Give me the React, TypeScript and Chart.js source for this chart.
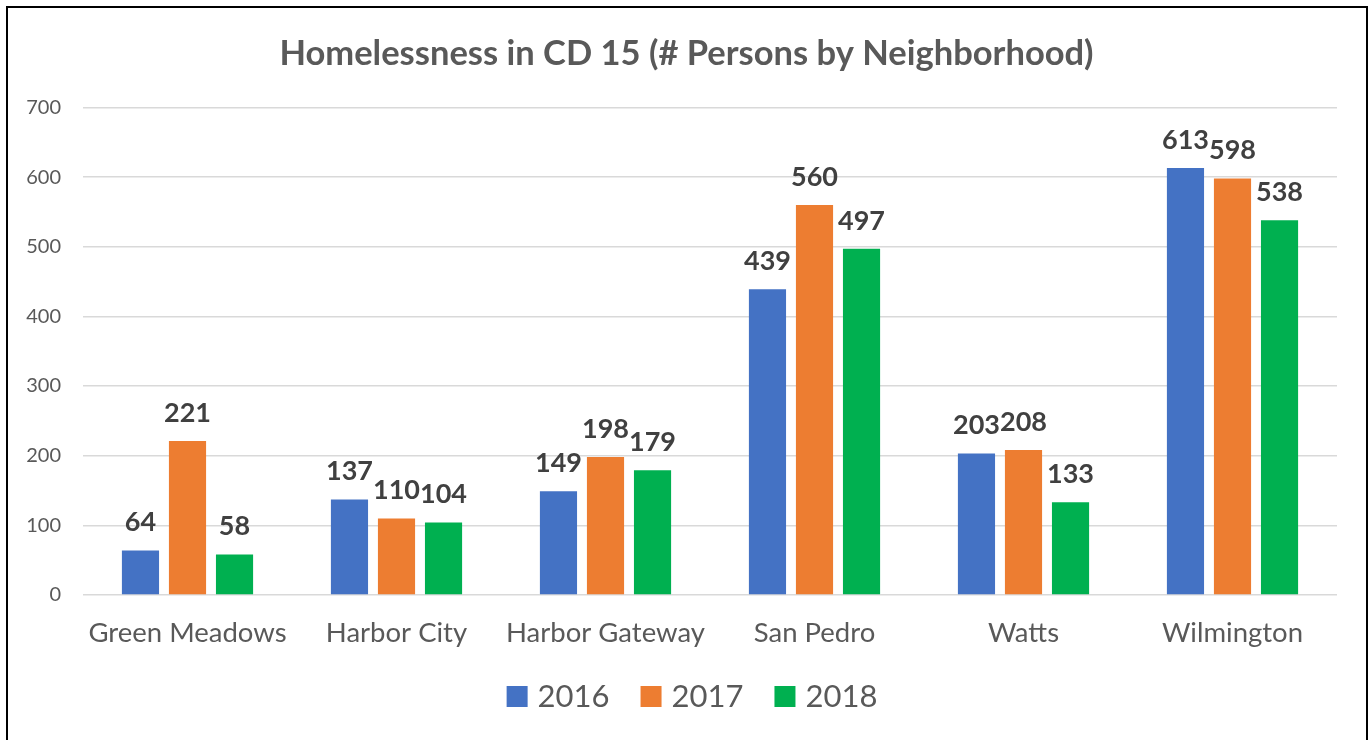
import React, { useEffect, useRef } from "react";
import { Chart, registerables } from "chart.js";

Chart.register(...registerables);

const TITLE = "Homelessness in CD 15 (# Persons by Neighborhood)";
const CATEGORIES = ["Green Meadows", "Harbor City", "Harbor Gateway", "San Pedro", "Watts", "Wilmington"];
const SERIES_NAMES = ["2016", "2017", "2018"];
const VALUES_2016 = [64, 137, 149, 439, 203, 613];
const VALUES_2017 = [221, 110, 198, 560, 208, 598];
const VALUES_2018 = [58, 104, 179, 497, 133, 538];
const COLORS = ["#4472C4", "#ED7D31", "#00B050"];
const Y_MAX = 700;
const Y_STEP = 100;

const FONT = "Lato, 'Open Sans', sans-serif";

const labelPlugin = {
  id: "barLabels",
  afterDatasetsDraw(chart: any) {
    const ctx = chart.ctx;
    ctx.save();
    ctx.font = `bold 27px ${FONT}`;
    ctx.fillStyle = "#404040";
    ctx.textAlign = "center";
    ctx.textBaseline = "middle";
    chart.data.datasets.forEach((ds: any, i: number) => {
      const meta = chart.getDatasetMeta(i);
      meta.data.forEach((bar: any, j: number) => {
        ctx.fillText(String(ds.data[j]), bar.x, bar.y - 28);
      });
    });
    ctx.restore();
  },
};

// centre the title on the whole frame rather than on the padded layout box
const titleShiftPlugin = {
  id: "titleShift",
  afterLayout(chart: any) {
    const tb = chart.titleBlock;
    if (tb) {
      tb.left += 14;
      tb.right += 14;
    }
  },
};

// Excel-style legend: square swatch, small gap, large text
const legendPlugin = {
  id: "excelLegend",
  afterDraw(chart: any) {
    const ctx = chart.ctx;
    ctx.save();
    ctx.font = `31px ${FONT}`;
    ctx.textBaseline = "alphabetic";
    ctx.textAlign = "left";
    const box = 21;
    const gap = 10;
    const spacing = 31;
    const items = chart.data.datasets.map((ds: any) => ({
      label: ds.label,
      color: ds.backgroundColor,
      w: ctx.measureText(ds.label).width,
    }));
    const total =
      items.reduce((s: number, it: any) => s + box + gap + it.w, 0) + spacing * (items.length - 1);
    let x = chart.width / 2 + 6 - total / 2;
    const baseline = chart.height - 23;
    items.forEach((it: any) => {
      ctx.fillStyle = it.color;
      ctx.fillRect(x, baseline - box, box, box);
      ctx.fillStyle = "#595959";
      ctx.fillText(it.label, x + box + gap, baseline);
      x += box + gap + it.w + spacing;
    });
    ctx.restore();
  },
};

export default function App() {
  const ref = useRef<HTMLCanvasElement | null>(null);
  useEffect(() => {
    if (!ref.current) return;
    const seriesValues = [VALUES_2016, VALUES_2017, VALUES_2018];
    const chart = new Chart(ref.current, {
      type: "bar",
      data: {
        labels: CATEGORIES,
        datasets: SERIES_NAMES.map((name, i) => ({
          label: name,
          data: seriesValues[i],
          backgroundColor: COLORS[i],
          borderWidth: 0,
          barPercentage: 0.79,
          categoryPercentage: 0.675,
        })),
      },
      options: {
        animation: false,
        responsive: false,
        devicePixelRatio: 1,
        layout: { padding: { left: 0, right: 27, top: 0, bottom: 72 } },
        plugins: {
          title: {
            display: true,
            text: TITLE,
            color: "#595959",
            font: { family: FONT, size: 34.5, weight: "bold" },
            padding: { top: 25, bottom: 33 },
          },
          legend: { display: false },
          tooltip: { enabled: false },
        },
        scales: {
          x: {
            grid: { display: false, drawTicks: false },
            border: { display: false },
            ticks: { color: "#595959", font: { family: FONT, size: 27.5 }, padding: 22 },
            afterFit: (scale: any) => {
              scale.height = 63;
            },
          },
          y: {
            min: 0,
            max: Y_MAX,
            ticks: { stepSize: Y_STEP, color: "#595959", font: { family: FONT, size: 20 }, padding: 22 },
            grid: { color: "#D9D9D9", lineWidth: 1.5, drawTicks: false },
            border: { display: false },
            afterFit: (scale: any) => {
              scale.width = 75;
            },
          },
        },
      },
      plugins: [labelPlugin, titleShiftPlugin, legendPlugin],
    });
    return () => chart.destroy();
  }, []);
  return (
    <div
      style={{
        position: "absolute",
        left: 6,
        top: 6,
        width: 1358,
        height: 760,
        border: "2px solid #000",
        background: "#fff",
      }}
    >
      <canvas ref={ref} width={1356} height={722} style={{ display: "block" }} />
    </div>
  );
}
